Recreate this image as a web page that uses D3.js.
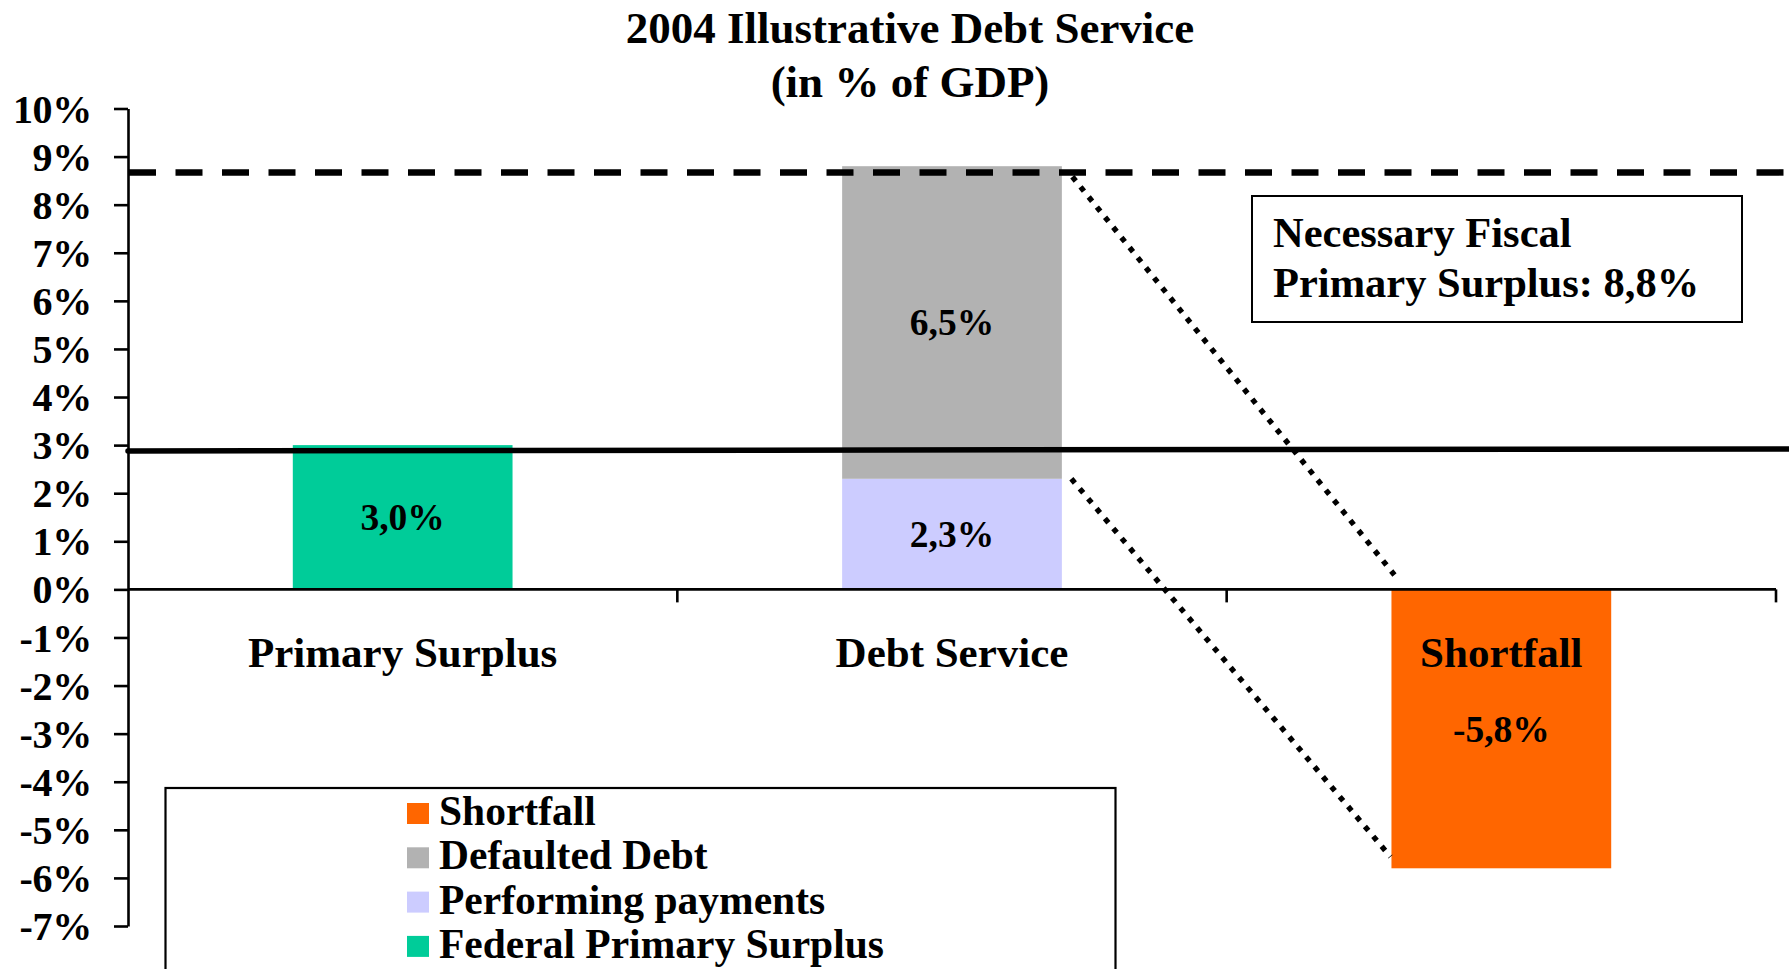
<!DOCTYPE html>
<html>
<head>
<meta charset="utf-8">
<script src="https://cdn.jsdelivr.net/npm/d3@7"></script>
<style>
  html, body { margin: 0; padding: 0; background: #fff; }
  svg { display: block; }
  text { font-family: "Times New Roman", "Liberation Serif", serif; font-weight: bold; fill: #000; }
</style>
</head>
<body>
<svg id="chart" width="1789" height="969"></svg>
<script>
// Categories along the x axis
const categories = ["Primary Surplus", "Debt Service", "Shortfall"];

// Series values (% of GDP), one entry per category
const federalPrimarySurplus = [3.0, 0, 0];
const performingPayments    = [0, 2.3, 0];
const defaultedDebt         = [0, 6.5, 0];
const shortfall             = [0, 0, -5.8];

const seriesNames  = ["Federal Primary Surplus", "Performing payments", "Defaulted Debt", "Shortfall"];
const seriesColors = ["#00CC99", "#CCCCFF", "#B2B2B2", "#FF6600"];
const legendOrder  = ["Shortfall", "Defaulted Debt", "Performing payments", "Federal Primary Surplus"];

// Y axis ticks (%)
const yTicks = d3.range(-7, 11);

// Reference lines (% of GDP)
const requiredSurplus = 8.67;            // dashed: necessary fiscal primary surplus
const currentSurplusLine = [2.88, 2.92]; // solid: level at left and right end
// Dotted connectors between Debt Service and Shortfall: [from value, to value]
const connectors = [[8.58, 0.3], [2.3, -5.56]];

const titleLines = ["2004 Illustrative Debt Service", "(in % of GDP)"];
const noteLines = ["Necessary Fiscal", "Primary Surplus: 8,8%"];

const fmt = v => d3.format(".1f")(v).replace(".", ",").replace("\u2212", "-") + "%";

const svg = d3.select("#chart");
const W = 1789;

const x = d3.scaleBand().domain(categories).range([128, 1776]).paddingInner(0.6).paddingOuter(0.3);
const y = d3.scaleLinear().domain([-7, 10]).range([926, 108.5]);

// Stacked data
const rows = categories.map((c, i) => ({
  category: c,
  "Federal Primary Surplus": federalPrimarySurplus[i],
  "Performing payments": performingPayments[i],
  "Defaulted Debt": defaultedDebt[i],
  "Shortfall": shortfall[i]
}));
const stacked = d3.stack().keys(seriesNames).offset(d3.stackOffsetDiverging)(rows);
const color = d3.scaleOrdinal().domain(seriesNames).range(seriesColors);

// Title
svg.append("g").selectAll("text").data(titleLines).join("text")
  .attr("x", 910).attr("y", (d, i) => 43 + i * 54)
  .attr("text-anchor", "middle").style("font-size", "45px")
  .text(d => d);

// Bars
const barG = svg.append("g");
stacked.forEach(s => {
  barG.selectAll(null).data(s.filter(d => d[1] - d[0] !== 0)).join("rect")
    .attr("x", d => x(d.data.category))
    .attr("width", x.bandwidth())
    .attr("y", d => y(Math.max(d[0], d[1])))
    .attr("height", d => Math.abs(y(d[0]) - y(d[1])))
    .attr("fill", color(s.key));
});

// Y axis
const yAxis = svg.append("g").attr("transform", "translate(128,0)")
  .call(d3.axisLeft(y).tickValues(yTicks).tickSize(14).tickSizeOuter(0).tickFormat(d => d + "%"));
yAxis.select(".domain").attr("stroke", "#000").attr("stroke-width", 2.6);
yAxis.selectAll(".tick line").attr("stroke", "#000").attr("stroke-width", 2.6);
yAxis.selectAll(".tick text")
  .attr("x", -36).attr("dy", "0.34em")
  .style("font-size", "40px").style("letter-spacing", "-0.3px")
  .style("font-family", "'Times New Roman', 'Liberation Serif', serif").style("font-weight", "bold")
  .attr("fill", "#000");

// X axis (category axis crossing at 0)
const x0 = x.range()[0], x1 = x.range()[1];
const step = x.step();
const xAxis = svg.append("g");
xAxis.append("line").attr("x1", x0).attr("x2", x1).attr("y1", y(0)).attr("y2", y(0))
  .attr("stroke", "#000").attr("stroke-width", 2.6);
xAxis.selectAll("line.tk").data(categories).join("line").attr("class", "tk")
  .attr("x1", (d, i) => x0 + step * (i + 1)).attr("x2", (d, i) => x0 + step * (i + 1))
  .attr("y1", y(0)).attr("y2", y(0) + 13)
  .attr("stroke", "#000").attr("stroke-width", 2.6);

// Dashed required-surplus line
svg.append("line")
  .attr("x1", 129).attr("x2", W).attr("y1", y(requiredSurplus)).attr("y2", y(requiredSurplus))
  .attr("stroke", "#000").attr("stroke-width", 6.5).attr("stroke-dasharray", "27 19.5");

// Solid current-surplus line
svg.append("line")
  .attr("x1", 128).attr("x2", W + 5)
  .attr("y1", y(currentSurplusLine[0])).attr("y2", y(currentSurplusLine[1]))
  .attr("stroke", "#000").attr("stroke-width", 5.5).attr("stroke-linecap", "round");

// Dotted connectors from Debt Service to Shortfall
const debtRight = x("Debt Service") + x.bandwidth();
const shortLeft = x("Shortfall");
const connOffsets = [[10.5, 3], [9.5, -1]];
svg.append("g").selectAll("line").data(connectors).join("line")
  .attr("x1", (d, i) => debtRight + connOffsets[i][0]).attr("y1", d => y(d[0]))
  .attr("x2", (d, i) => shortLeft + connOffsets[i][1]).attr("y2", d => y(d[1]))
  .attr("stroke", "#000").attr("stroke-width", 5.4).attr("stroke-dasharray", "5.4 7.6");

// Bar value labels
const labelG = svg.append("g");
stacked.forEach(s => {
  labelG.selectAll(null).data(s.filter(d => d[1] - d[0] !== 0)).join("text")
    .attr("x", d => x(d.data.category) + x.bandwidth() / 2)
    .attr("y", d => (y(d[0]) + y(d[1])) / 2 + 13)
    .attr("text-anchor", "middle").style("font-size", "37.5px")
    .text(d => fmt(d.data[s.key]));
});

// Category labels
svg.append("g").selectAll("text").data(categories).join("text")
  .attr("x", d => x(d) + x.bandwidth() / 2).attr("y", 667)
  .attr("text-anchor", "middle").style("font-size", "43px")
  .text(d => d);

// Annotation box
svg.append("rect").attr("x", 1252).attr("y", 196).attr("width", 490).attr("height", 126)
  .attr("fill", "#fff").attr("stroke", "#000").attr("stroke-width", 2);
svg.append("g").selectAll("text").data(noteLines).join("text")
  .attr("x", 1273).attr("y", (d, i) => 246.5 + i * 50)
  .style("font-size", "42.5px")
  .text(d => d);

// Legend
const legend = svg.append("g");
legend.append("rect").attr("x", 165.5).attr("y", 788).attr("width", 950).attr("height", 220)
  .attr("fill", "#fff").attr("stroke", "#000").attr("stroke-width", 2.2);
const li = legend.selectAll("g.item").data(legendOrder).join("g").attr("class", "item")
  .attr("transform", (d, i) => `translate(407,${825 + i * 44.3})`);
li.append("rect").attr("x", 0).attr("y", -22).attr("width", 22).attr("height", 21)
  .attr("fill", d => color(d));
li.append("text").attr("x", 32).attr("y", 0).style("font-size", "41.5px").text(d => d);
</script>
</body>
</html>
